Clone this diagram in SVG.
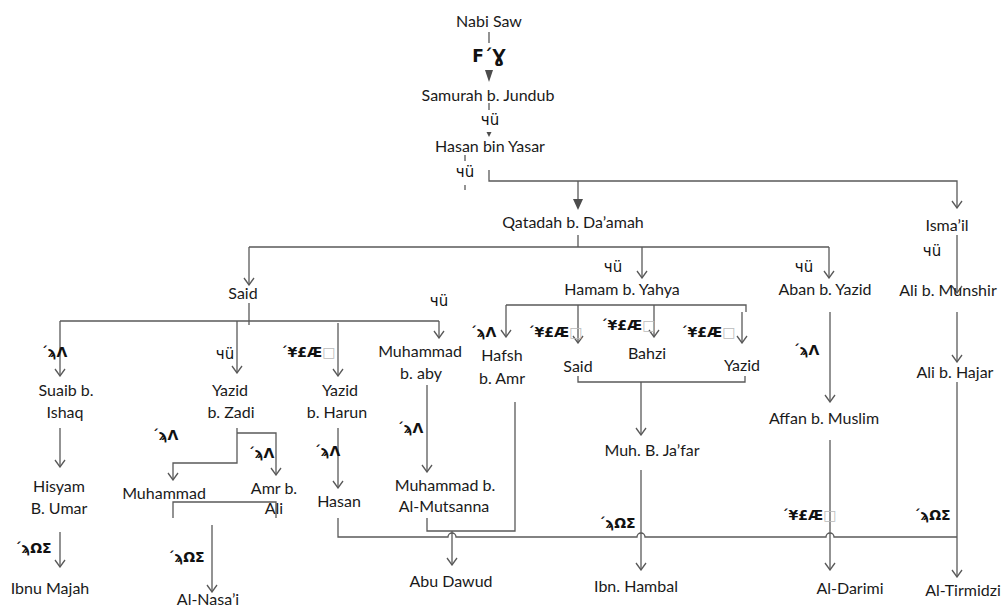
<svg xmlns="http://www.w3.org/2000/svg" width="1004" height="606" viewBox="0 0 1004 606">
<style>
text{font-family:Lato,"Open Sans","Liberation Sans",sans-serif;font-size:16px;fill:#1a1a1a;text-anchor:middle}
.g{font-family:"DejaVu Sans","Noto Sans",sans-serif;font-size:14px;font-weight:bold;fill:#111}
.q{font-family:"DejaVu Sans","Noto Sans",sans-serif;font-size:15px;fill:#111}
.t{font-family:"DejaVu Sans","Noto Sans",sans-serif;font-size:17px;font-weight:bold;fill:#111}
.box{fill:#bbb;font-weight:normal}
.c{fill:none;stroke:#595959;stroke-width:1.3}
.a{marker-end:url(#open)}
.f{fill:#4d4d4d;stroke:none}
</style>
<defs>
<marker id="open" viewBox="0 0 12 12" markerWidth="12" markerHeight="12" markerUnits="userSpaceOnUse" refX="11" refY="6" orient="auto">
<path d="M4,1 L11,6 L4,11" fill="none" stroke="#595959" stroke-width="1.3"/>
</marker>
</defs>
<rect width="1004" height="606" fill="#fff"/>
<g id="connectors">
<path class="c" d="M489,32V43M489,103V110M465,155V161M465,185V190"/>
<polygon class="f" points="485,70 493,70 489,82"/>
<polygon class="f" points="486.5,132 491.5,132 489,137"/>
<path class="c a" d="M489,170V181H957V208"/>
<path class="c" d="M578,181V200"/>
<polygon class="f" points="573,199 583,199 578,210"/>
<path class="c" d="M578,235V247M249,247H829"/>
<path class="c a" d="M249,247V285"/>
<path class="c a" d="M642,247V278"/>
<path class="c a" d="M829,247V278"/>
<path class="c a" d="M957,235V293"/>
<path class="c" d="M249,303V325M60,321H439"/>
<path class="c a" d="M60,321V376"/>
<path class="c a" d="M237,321V373"/>
<path class="c a" d="M338,323V376"/>
<path class="c a" d="M439,321V338"/>
<path class="c" d="M506,305H746V312"/>
<path class="c a" d="M506,305V337"/>
<path class="c a" d="M578,305V343"/>
<path class="c a" d="M654,305V337"/>
<path class="c a" d="M742,312V343"/>
<path class="c" d="M578,376V382H745V376"/>
<path class="c a" d="M641,382V435"/>
<path class="c a" d="M830,312V402"/>
<path class="c a" d="M957,312V362"/>
<path class="c a" d="M60,428V467"/>
<path class="c a" d="M60,532V567"/>
<path class="c a" d="M237,428V463H173V480"/>
<path class="c a" d="M237,433H276V475"/>
<path class="c" d="M173,518V502H276V518"/>
<path class="c a" d="M212,525V592"/>
<path class="c a" d="M338,428V488"/>
<path class="c a" d="M427,385V472"/>
<path class="c" d="M338,518V537H448a4,4 0 0 1 8,0H637a4,4 0 0 1 8,0H826a4,4 0 0 1 8,0H957"/>
<path class="c" d="M427,518V531H515V402"/>
<path class="c a" d="M452,531V565"/>
<path class="c a" d="M641,470V570"/>
<path class="c a" d="M830,440V570"/>
<path class="c a" d="M957,382V577"/>
</g>
<g id="labels">
<text class="t" x="489" y="62">F´Ɣ</text>
<text class="q" x="490" y="125">чü</text>
<text class="q" x="465" y="177">чü</text>
<text class="q" x="613" y="272">чü</text>
<text class="q" x="804" y="272">чü</text>
<text class="q" x="932" y="256">чü</text>
<text class="q" x="439" y="306">чü</text>
<text class="q" x="225" y="359">чü</text>
<text class="g" x="483" y="337">´ϡΛ</text>
<text class="g" x="54" y="357">´ϡΛ</text>
<text class="g" x="165" y="440">´ϡΛ</text>
<text class="g" x="261" y="458">´ϡΛ</text>
<text class="g" x="327" y="456">´ϡΛ</text>
<text class="g" x="410" y="433">´ϡΛ</text>
<text class="g" x="806" y="355">´ϡΛ</text>
<text class="g" x="308" y="357">´¥£Æ<tspan class="box">□</tspan></text>
<text class="g" x="555" y="337">´¥£Æ<tspan class="box">□</tspan></text>
<text class="g" x="628" y="330">´¥£Æ<tspan class="box">□</tspan></text>
<text class="g" x="708" y="337">´¥£Æ<tspan class="box">□</tspan></text>
<text class="g" x="809" y="520">´¥£Æ<tspan class="box">□</tspan></text>
<text class="g" x="33" y="553">´ϡΩΣ</text>
<text class="g" x="186" y="562">´ϡΩΣ</text>
<text class="g" x="617" y="528">´ϡΩΣ</text>
<text class="g" x="932" y="520">´ϡΩΣ</text>
</g>
<g id="n-nabi"><text x="489" y="27">Nabi Saw</text></g>
<g id="n-samurah"><text x="488" y="101">Samurah b. Jundub</text></g>
<g id="n-hasan-yasar"><text x="490" y="152">Hasan bin Yasar</text></g>
<g id="n-qatadah"><text x="573" y="228">Qatadah b. Da’amah</text></g>
<g id="n-ismail"><text x="947" y="231">Isma’il</text></g>
<g id="n-said"><text x="243" y="299">Said</text></g>
<g id="n-hamam"><text x="622" y="295">Hamam b. Yahya</text></g>
<g id="n-aban"><text x="825" y="295">Aban b. Yazid</text></g>
<g id="n-ali-munshir"><text x="948" y="296">Ali b. Munshir</text></g>
<g id="n-suaib"><text x="66" y="396">Suaib b.</text><text x="65" y="418">Ishaq</text></g>
<g id="n-yazid-zadi"><text x="230" y="396">Yazid</text><text x="231" y="418">b. Zadi</text></g>
<g id="n-yazid-harun"><text x="340" y="396">Yazid</text><text x="337" y="418">b. Harun</text></g>
<g id="n-muhammad-aby"><text x="420" y="357">Muhammad</text><text x="421" y="379">b. aby</text></g>
<g id="n-hafsh"><text x="502" y="361">Hafsh</text><text x="502" y="384">b. Amr</text></g>
<g id="n-said2"><text x="578" y="372">Said</text></g>
<g id="n-bahzi"><text x="647" y="359">Bahzi</text></g>
<g id="n-yazid2"><text x="742" y="371">Yazid</text></g>
<g id="n-affan"><text x="824" y="424">Affan b. Muslim</text></g>
<g id="n-ali-hajar"><text x="955" y="378">Ali b. Hajar</text></g>
<g id="n-muh-jafar"><text x="652" y="456">Muh. B. Ja’far</text></g>
<g id="n-hisyam"><text x="59" y="492">Hisyam</text><text x="59" y="514">B. Umar</text></g>
<g id="n-muhammad"><text x="164" y="499">Muhammad</text></g>
<g id="n-amr"><text x="274" y="494">Amr b.</text><text x="274" y="514">Ali</text></g>
<g id="n-hasan"><text x="339" y="507">Hasan</text></g>
<g id="n-mutsanna"><text x="445" y="491">Muhammad b.</text><text x="444" y="512">Al-Mutsanna</text></g>
<g id="n-ibnu-majah"><text x="50" y="594">Ibnu Majah</text></g>
<g id="n-nasai"><text x="208" y="605">Al-Nasa’i</text></g>
<g id="n-abu-dawud"><text x="451" y="587">Abu Dawud</text></g>
<g id="n-ibn-hambal"><text x="636" y="592">Ibn. Hambal</text></g>
<g id="n-darimi"><text x="850" y="594">Al-Darimi</text></g>
<g id="n-tirmidzi"><text x="963" y="596">Al-Tirmidzi</text></g>
</svg>
